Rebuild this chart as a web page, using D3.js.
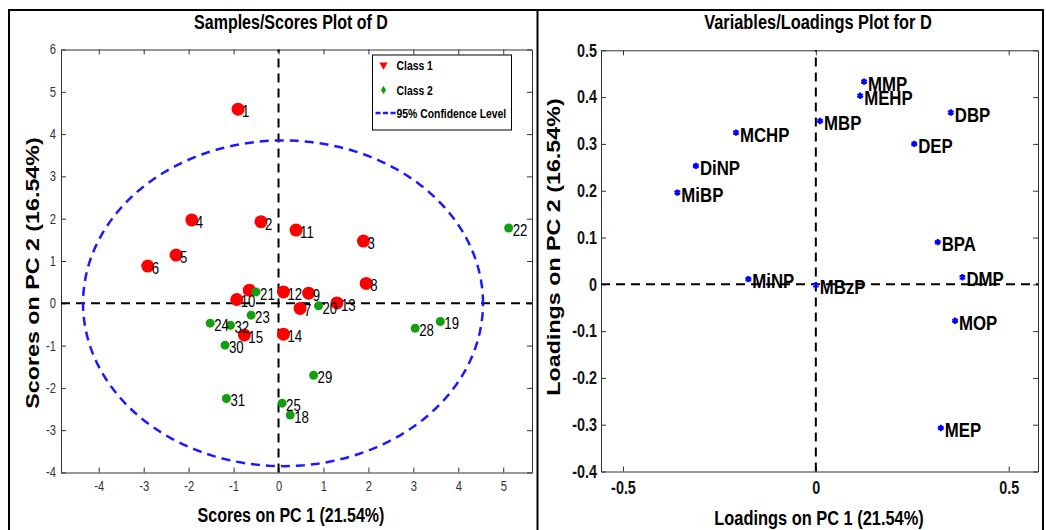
<!DOCTYPE html>
<html>
<head>
<meta charset="utf-8">
<script src="https://cdn.jsdelivr.net/npm/d3@7"></script>
<style>
  body { margin: 0; background: #fff; }
  svg { display: block; }
  text { font-family: "Liberation Sans", Arial, sans-serif; }
  .wide { font-weight: bold; }
</style>
</head>
<body>
<div id="chart"></div>
<script>
// samples / scores (left panel)
const sampleLabels = ["1", "2", "3", "4", "5", "6", "7", "8", "9", "10", "11", "12", "13", "14", "15", "",
                      "18", "19", "20", "21", "22", "23", "24", "25", "28", "29", "30", "31", "32"]
const sampleClass = [1, 1, 1, 1, 1, 1, 1, 1, 1, 1, 1, 1, 1, 1, 1, 1,
                     2, 2, 2, 2, 2, 2, 2, 2, 2, 2, 2, 2, 2]
const scorePC1 = [-0.90, -0.39, 1.89, -1.93, -2.28, -2.91, 0.48, 1.95, 0.67, -0.93, 0.39, 0.11, 1.30, 0.11, -0.76, -0.65,
                  0.26, 3.60, 0.89, -0.50, 5.12, -0.61, -1.52, 0.08, 3.04, 0.78, -1.19, -1.16, -1.07]
const scorePC2 = [4.59, 1.93, 1.47, 1.97, 1.14, 0.88, -0.12, 0.47, 0.24, 0.09, 1.73, 0.27, 0.01, -0.73, -0.75, 0.31,
                  -2.64, -0.43, -0.06, 0.27, 1.78, -0.28, -0.47, -2.36, -0.59, -1.70, -0.99, -2.25, -0.52]
const confidenceCenter = [0.1, 0]
const confidenceRadii = [4.45, 3.85]   // 95% ellipse half-axes (PC1, PC2)

// variables / loadings (right panel)
const varNames = ["MMP", "MEHP", "DBP", "MBP", "MCHP", "DEP", "DiNP", "MiBP", "BPA", "DMP", "MiNP", "MBzP", "MOP", "MEP"]
const loadPC1 = [0.125, 0.115, 0.350, 0.011, -0.207, 0.255, -0.311, -0.359, 0.316, 0.380, -0.175, 0.000, 0.361, 0.324]
const loadPC2 = [0.433, 0.403, 0.367, 0.349, 0.324, 0.300, 0.253, 0.196, 0.090, 0.015, 0.011, -0.002, -0.078, -0.307]

const scoreXTicks = [-4, -3, -2, -1, 0, 1, 2, 3, 4, 5]
const scoreYTicks = [-4, -3, -2, -1, 0, 1, 2, 3, 4, 5, 6]
const loadXTicks = [-0.5, 0, 0.5]
const loadYTicks = [-0.4, -0.3, -0.2, -0.1, 0, 0.1, 0.2, 0.3, 0.4, 0.5]

const classColor = { 1: "#ff0000", 2: "#12a012" }

const width = 1046, height = 530
const narrowScale = 0.8

var svg = d3.select("#chart").append("svg")
    .attr("width", width)
    .attr("height", height)

svg.append("rect").attr("width", width).attr("height", height).attr("fill", "#fff")

// panel frames
svg.append("path")
    .attr("d", "M9,531V10H1043V531M537.5,10V531")
    .attr("fill", "none")
    .attr("stroke", "#000")
    .attr("stroke-width", 2)

// squeeze text horizontally round its anchor (figure looks like Arial Narrow)
function squish(sel) {
    sel.each(function () {
        let t = d3.select(this)
        let x = +t.attr("x") || 0, y = +t.attr("y") || 0
        t.attr("transform", "translate(" + x + "," + y + ") scale(" + narrowScale + ",1) translate(" + (-x) + "," + (-y) + ")")
    })
}

const plainNum = d => String(+d.toFixed(1))

function drawFrame(g, x, y, xTicks, yTicks, opts) {
    let [x0, x1] = x.range()
    let [y0, y1] = y.range()

    g.append("g").attr("transform", "translate(0," + y0 + ")")
        .call(d3.axisBottom(x).tickValues(xTicks).tickSize(-5).tickSizeOuter(0).tickPadding(opts.xPad).tickFormat(plainNum))
        .call(s => styleAxis(s, opts))
    g.append("g").attr("transform", "translate(0," + y1 + ")")
        .call(d3.axisTop(x).tickValues(xTicks).tickSize(-5).tickSizeOuter(0).tickFormat(""))
        .call(s => styleAxis(s, opts))
    g.append("g").attr("transform", "translate(" + x0 + ",0)")
        .call(d3.axisLeft(y).tickValues(yTicks).tickSize(-5).tickSizeOuter(0).tickPadding(opts.yPad).tickFormat(plainNum))
        .call(s => styleAxis(s, opts))
    g.append("g").attr("transform", "translate(" + x1 + ",0)")
        .call(d3.axisRight(y).tickValues(yTicks).tickSize(-5).tickSizeOuter(0).tickFormat(""))
        .call(s => styleAxis(s, opts))
}

function styleAxis(s, opts) {
    s.select(".domain").attr("stroke", "#333")
    s.selectAll(".tick line").attr("stroke", "#333")
    s.selectAll("text")
        .style("font-family", '"Liberation Sans", Arial, sans-serif')
        .style("font-size", opts.fontSize)
        .style("font-weight", opts.weight)
        .attr("fill", opts.color)
        .call(squish)
}

function zeroLines(g, x, y) {
    g.append("line")
        .attr("x1", x(0)).attr("x2", x(0))
        .attr("y1", y.range()[0]).attr("y2", y.range()[1])
        .attr("stroke", "#000").attr("stroke-width", 2).attr("stroke-dasharray", "9,6")
    g.append("line")
        .attr("x1", x.range()[0]).attr("x2", x.range()[1])
        .attr("y1", y(0)).attr("y2", y(0))
        .attr("stroke", "#000").attr("stroke-width", 2).attr("stroke-dasharray", "9,6")
}

function label(g, x, y, size, txt) {
    return g.append("text")
        .attr("x", x).attr("y", y)
        .attr("text-anchor", "middle")
        .style("font-size", size).style("font-weight", "bold")
        .text(txt)
        .call(squish)
}

// ---------- left: scores ----------
var xs = d3.scaleLinear().domain([-4.84, 5.64]).range([61, 532])
var ys = d3.scaleLinear().domain([-4, 6]).range([472.5, 49.5])
var left = svg.append("g")

drawFrame(left, xs, ys, scoreXTicks, scoreYTicks,
    { xPad: 9, yPad: 5, fontSize: "14px", weight: "normal", color: "#333" })
zeroLines(left, xs, ys)

var ellipse = d3.range(0, 361, 2).map(a => [
    confidenceCenter[0] + confidenceRadii[0] * Math.cos(a * Math.PI / 180),
    confidenceCenter[1] + confidenceRadii[1] * Math.sin(a * Math.PI / 180)])
left.append("path")
    .attr("d", d3.line().x(d => xs(d[0])).y(d => ys(d[1]))(ellipse))
    .attr("fill", "none")
    .attr("stroke", "#1a1aff")
    .attr("stroke-width", 2.5)
    .attr("stroke-dasharray", "9,6")

var samples = sampleLabels.map((l, i) => ({ label: l, cls: sampleClass[i], x: scorePC1[i], y: scorePC2[i] }))
samples.sort((a, b) => a.cls - b.cls)

left.selectAll("circle.sample")
    .data(samples)
    .enter()
    .append("circle")
    .attr("cx", d => xs(d.x))
    .attr("cy", d => ys(d.y))
    .attr("r", d => d.cls == 1 ? 6.5 : 4.5)
    .attr("fill", d => classColor[d.cls])

left.selectAll("text.sample")
    .data(samples)
    .enter()
    .append("text")
    .attr("x", d => xs(d.x) + 4)
    .attr("y", d => ys(d.y) + 8)
    .style("font-size", "16.5px")
    .text(d => d.label)
    .call(squish)

label(left, 291, 29, "20px", "Samples/Scores Plot of D")
label(left, 291, 522, "20px", "Scores on PC 1 (21.54%)")

left.append("text")
    .attr("class", "wide")
    .attr("transform", "translate(39,273) rotate(-90) scale(1.33,1)")
    .attr("text-anchor", "middle")
    .style("font-size", "17.5px")
    .text("Scores on PC 2 (16.54%)")

// legend
var legend = left.append("g").attr("transform", "translate(372.5,55)")
legend.append("rect")
    .attr("width", 139).attr("height", 75)
    .attr("fill", "#fff").attr("stroke", "#000")
legend.append("path")
    .attr("d", d3.symbol(d3.symbolTriangle, 30))
    .attr("transform", "translate(11,10) rotate(180)")
    .attr("fill", classColor[1])
legend.append("path")
    .attr("d", d3.symbol(d3.symbolDiamond, 22))
    .attr("transform", "translate(11,35)")
    .attr("fill", classColor[2])
legend.append("line")
    .attr("x1", 3).attr("x2", 23).attr("y1", 58).attr("y2", 58)
    .attr("stroke", "#1a1aff").attr("stroke-width", 2.5).attr("stroke-dasharray", "5,2.5")
legend.selectAll("text.leg")
    .data(["Class 1", "Class 2", "95% Confidence Level"])
    .enter()
    .append("text")
    .attr("x", 24)
    .attr("y", (d, i) => [15, 40, 63][i])
    .style("font-size", "13px").style("font-weight", "bold")
    .text(d => d)
    .call(squish)

// ---------- right: loadings ----------
var xl = d3.scaleLinear().domain([-0.557, 0.576]).range([601, 1038])
var yl = d3.scaleLinear().domain([-0.4, 0.5]).range([471.5, 50.3])
var right = svg.append("g")

drawFrame(right, xl, yl, loadXTicks, loadYTicks,
    { xPad: 10, yPad: 4, fontSize: "18px", weight: "bold", color: "#111" })
zeroLines(right, xl, yl)

var loadings = varNames.map((n, i) => ({ name: n, x: loadPC1[i], y: loadPC2[i] }))

right.selectAll("path.var")
    .data(loadings)
    .enter()
    .append("path")
    .attr("d", d3.symbol(d3.symbolAsterisk, 28))
    .attr("transform", d => "translate(" + xl(d.x) + "," + yl(d.y) + ")")
    .attr("fill", "none")
    .attr("stroke", "#0000ff")
    .attr("stroke-width", 2.2)

right.selectAll("text.var")
    .data(loadings)
    .enter()
    .append("text")
    .attr("x", d => xl(d.x) + 4)
    .attr("y", d => yl(d.y) + 9)
    .style("font-size", "21px").style("font-weight", "bold")
    .text(d => d.name)
    .call(squish)

label(right, 818, 29, "20.5px", "Variables/Loadings Plot for D")
label(right, 819, 525, "20.5px", "Loadings on PC 1 (21.54%)")

right.append("text")
    .attr("class", "wide")
    .attr("transform", "translate(560,247) rotate(-90) scale(1.33,1)")
    .attr("text-anchor", "middle")
    .style("font-size", "17.5px")
    .text("Loadings on PC 2 (16.54%)")
</script>
</body>
</html>
